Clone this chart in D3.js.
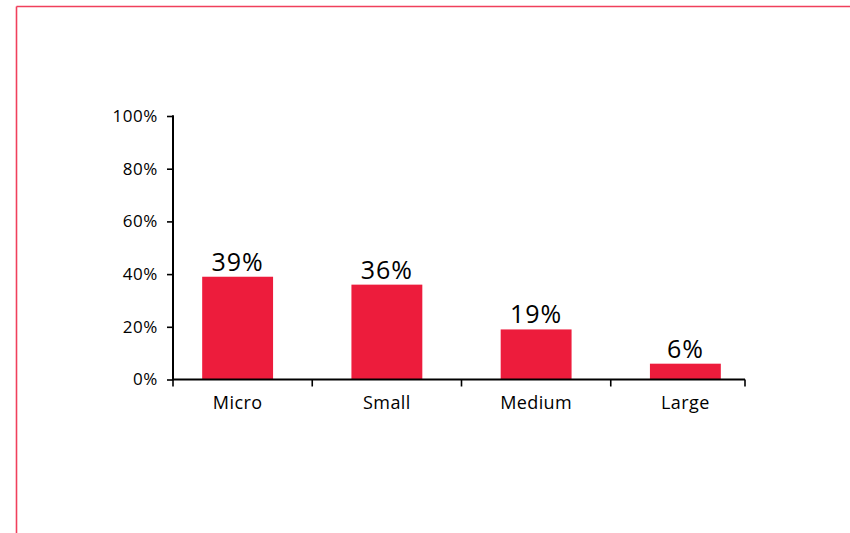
<!DOCTYPE html>
<html><head><meta charset="utf-8">
<script src="https://cdn.jsdelivr.net/npm/d3@7"></script>
<style>
body{margin:0;background:#fff;}
svg{display:block;font-family:"Open Sans","Noto Sans",sans-serif;}
</style></head>
<body><svg id="c" width="850" height="533"></svg>
<script>
const categories = ["Micro","Small","Medium","Large"];
const values = [0.39, 0.36, 0.19, 0.06];
const valueLabels = ["39%","36%","19%","6%"];
const yTicks = [0,0.2,0.4,0.6,0.8,1.0];

const svg = d3.select("#c");
// frame lines
svg.append("line").attr("x1",16.5).attr("y1",6.5).attr("x2",850).attr("y2",6.5)
  .attr("stroke","#f0405c").attr("stroke-width",1.6);
svg.append("line").attr("x1",16.5).attr("y1",6.5).attr("x2",16.5).attr("y2",533)
  .attr("stroke","#f0405c").attr("stroke-width",1.6);

const axL = 173, axR = 745;
const x = d3.scaleBand().domain(categories).range([163, 760]);
const y = d3.scaleLinear().domain([0,1]).range([379.5,116]);
const barW = x.bandwidth()*0.475;

// bars
svg.selectAll("rect.bar").data(values).enter().append("rect")
  .attr("class","bar")
  .attr("x",(d,i)=>x(categories[i])+x.bandwidth()/2-barW/2)
  .attr("width",barW)
  .attr("y",d=>y(d))
  .attr("height",d=>y(0)-y(d))
  .attr("fill","#ed1c3c");

// value labels
svg.selectAll("text.val").data(values).enter().append("text")
  .attr("class","val")
  .attr("x",(d,i)=>x(categories[i])+x.bandwidth()/2)
  .attr("y",d=>y(d)-6)
  .attr("text-anchor","middle")
  .attr("font-size",25)
  .attr("letter-spacing",1)
  .attr("fill","#000")
  .text((d,i)=>valueLabels[i]);

// y axis
const yAxis = d3.axisLeft(y).tickValues(yTicks).tickFormat(d3.format(".0%")).tickSize(6).tickPadding(9);
const gy = svg.append("g").attr("transform",`translate(${axL},0)`).call(yAxis);
gy.select(".domain").remove();
gy.selectAll(".tick line").attr("stroke","#000").attr("stroke-width",1.6);
gy.selectAll(".tick text").attr("font-size",17).attr("letter-spacing",0.6).attr("fill","#000").attr("font-family","Open Sans");
svg.append("line").attr("x1",axL).attr("x2",axL).attr("y1",y(1)-0.8).attr("y2",y(0)+0.8)
  .attr("stroke","#000").attr("stroke-width",2);

// x axis
svg.append("line").attr("x1",axL).attr("x2",axR).attr("y1",y(0)).attr("y2",y(0))
  .attr("stroke","#000").attr("stroke-width",2);
const boundaries = [axL].concat(categories.slice(1).map(c=>x(c))).concat([axR]);
svg.selectAll("line.xt").data(boundaries).enter().append("line")
  .attr("class","xt")
  .attr("x1",d=>d).attr("x2",d=>d).attr("y1",y(0)).attr("y2",y(0)+7)
  .attr("stroke","#000").attr("stroke-width",1.6);
svg.selectAll("text.cat").data(categories).enter().append("text")
  .attr("class","cat")
  .attr("x",d=>x(d)+x.bandwidth()/2)
  .attr("y",409)
  .attr("text-anchor","middle")
  .attr("font-size",18)
  .attr("letter-spacing",0.4)
  .attr("fill","#000")
  .text(d=>d);
</script></body></html>
